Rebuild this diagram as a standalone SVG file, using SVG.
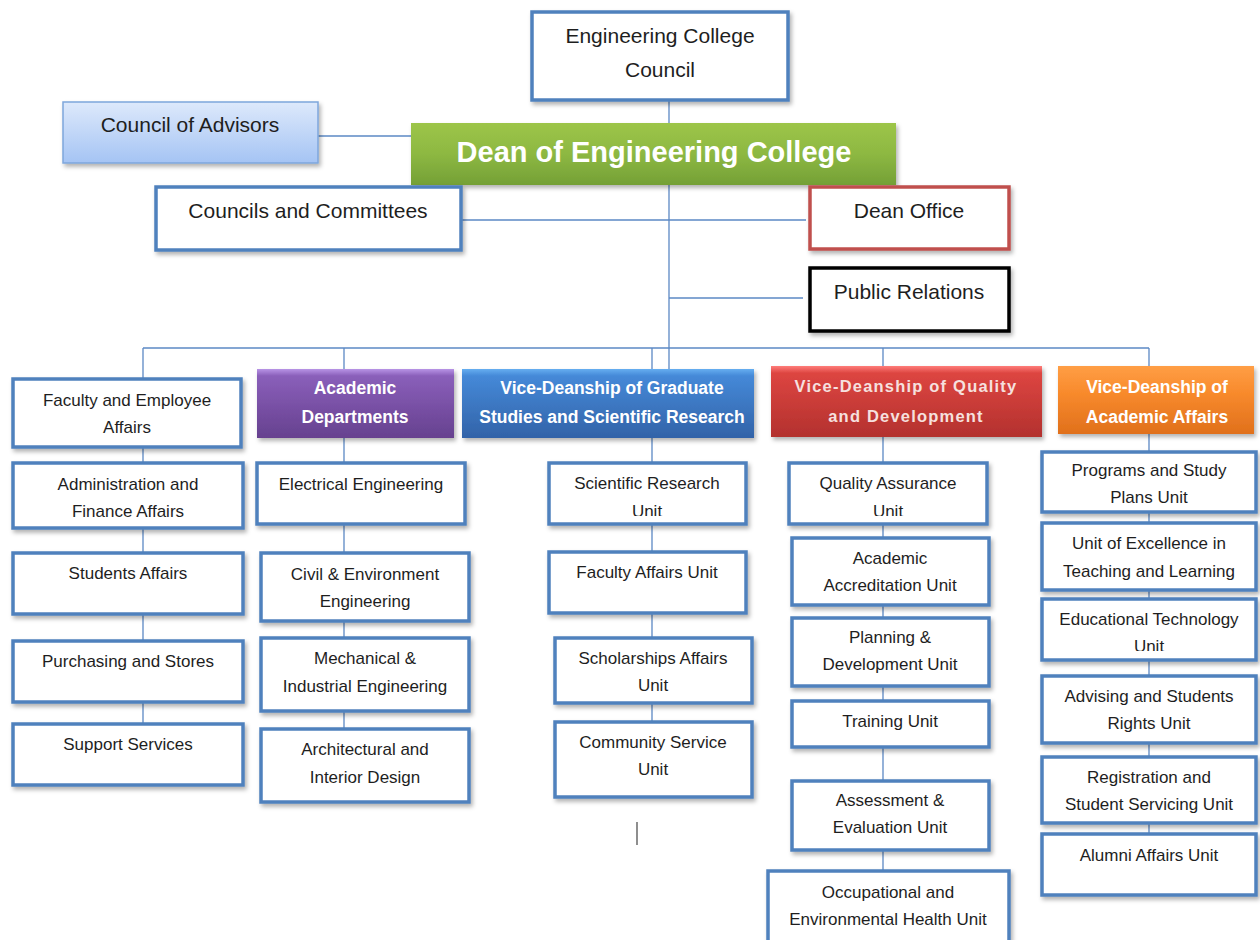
<svg xmlns="http://www.w3.org/2000/svg" width="1260" height="940" viewBox="0 0 1260 940">
<defs>
<filter id="sh" x="-10%" y="-10%" width="125%" height="135%">
<feDropShadow dx="2" dy="3" stdDeviation="2" flood-color="#000" flood-opacity="0.3"/>
</filter>
<linearGradient id="gAdv" x1="0" y1="0" x2="0" y2="1">
<stop offset="0" stop-color="#dde9fb"/><stop offset="1" stop-color="#a5c4f4"/>
</linearGradient>
<linearGradient id="gDean" x1="0" y1="0" x2="0" y2="1">
<stop offset="0" stop-color="#9dc548"/><stop offset="0.5" stop-color="#8db842"/><stop offset="1" stop-color="#74a036"/>
</linearGradient>
<linearGradient id="gPur" x1="0" y1="0" x2="0" y2="1">
<stop offset="0" stop-color="#b894e6"/><stop offset="0.1" stop-color="#8a5fba"/><stop offset="1" stop-color="#66418f"/>
</linearGradient>
<linearGradient id="gBlu" x1="0" y1="0" x2="0" y2="1">
<stop offset="0" stop-color="#66aef0"/><stop offset="0.1" stop-color="#4589d8"/><stop offset="1" stop-color="#3263a8"/>
</linearGradient>
<linearGradient id="gRed" x1="0" y1="0" x2="0" y2="1">
<stop offset="0" stop-color="#ff7d7a"/><stop offset="0.1" stop-color="#dd4541"/><stop offset="1" stop-color="#b3312e"/>
</linearGradient>
<linearGradient id="gOra" x1="0" y1="0" x2="0" y2="1">
<stop offset="0" stop-color="#ff9e45"/><stop offset="0.4" stop-color="#f88a2c"/><stop offset="1" stop-color="#e0701c"/>
</linearGradient>
<clipPath id="cSRU"><rect x="540" y="455" width="220" height="61"/></clipPath>
<clipPath id="cQAU"><rect x="780" y="455" width="220" height="61"/></clipPath>
<clipPath id="cETU"><rect x="1035" y="590" width="225" height="61"/></clipPath>
<style>
.box{fill:#fff;stroke:#4f81bd;stroke-width:3.5;filter:url(#sh)}
.hd{stroke:none;filter:url(#sh)}
.t{font-family:"Liberation Sans",Arial,sans-serif;font-size:17px;fill:#1e1e1e;text-anchor:middle}
.tl{font-family:"Liberation Sans",Arial,sans-serif;font-size:21px;fill:#1e1e1e;text-anchor:middle}
.th{font-family:"Liberation Sans",Arial,sans-serif;font-size:17.5px;font-weight:bold;fill:#fff;text-anchor:middle}
.conn{stroke:#5b88c4;stroke-width:1.3;fill:none}
</style>
</defs>

<g id="connectors">
<path class="conn" d="M669,100 V369"/>
<path class="conn" d="M318,136 H411"/>
<path class="conn" d="M461,220 H806"/>
<path class="conn" d="M669,298 H803"/>
<path class="conn" d="M143,348 H1149"/>
<path class="conn" d="M143,348 V724"/>
<path class="conn" d="M344,348 V729"/>
<path class="conn" d="M652,348 V722"/>
<path class="conn" d="M883,348 V871"/>
<path class="conn" d="M1149,348 V834"/>
<path d="M637,822 V845" stroke="#444" stroke-width="1.2"/>
</g>

<g id="college-council"><rect class="box" x="532" y="12" width="256" height="88"/>
<text class="tl" x="660" y="43">Engineering College</text><text class="tl" x="660" y="77">Council</text></g>

<g id="council-advisors"><rect x="63" y="102" width="255" height="61" fill="url(#gAdv)" stroke="#7ea6dc" stroke-width="1.5" filter="url(#sh)"/>
<text class="tl" x="190" y="132">Council of Advisors</text></g>

<g id="dean"><rect class="hd" x="411" y="123" width="485" height="62" fill="url(#gDean)"/>
<text x="654" y="162" font-family="Liberation Sans,Arial,sans-serif" font-size="29" font-weight="bold" fill="#fff" text-anchor="middle">Dean of Engineering College</text></g>

<g id="councils-committees"><rect class="box" x="156" y="187" width="305" height="63"/>
<text class="tl" x="308" y="218">Councils and Committees</text></g>

<g id="dean-office"><rect class="box" x="810" y="187" width="199" height="62" style="stroke:#c0504d"/>
<text class="tl" x="909" y="218">Dean Office</text></g>

<g id="public-relations"><rect class="box" x="810" y="268" width="199" height="63" style="stroke:#000"/>
<text class="tl" x="909" y="299">Public Relations</text></g>

<g id="academic-departments"><rect class="hd" x="257" y="369" width="197" height="69" fill="url(#gPur)"/>
<text class="th" x="355" y="394">Academic</text><text class="th" x="355" y="423">Departments</text></g>

<g id="vd-graduate"><rect class="hd" x="462" y="369" width="292" height="69" fill="url(#gBlu)"/>
<text class="th" x="612" y="394">Vice-Deanship of Graduate</text><text class="th" x="612" y="423">Studies and Scientific Research</text></g>

<g id="vd-quality"><rect class="hd" x="771" y="366" width="271" height="71" fill="url(#gRed)"/>
<text class="th" x="906" y="392" style="fill:#f6e0df;letter-spacing:1.2px;font-size:16.5px">Vice-Deanship of Quality</text><text class="th" x="906" y="422" style="fill:#f6e0df;letter-spacing:1.2px;font-size:16.5px">and Development</text></g>

<g id="vd-academic-affairs"><rect class="hd" x="1058" y="366" width="196" height="68" fill="url(#gOra)"/>
<text class="th" x="1157" y="393">Vice-Deanship of</text><text class="th" x="1157" y="423">Academic Affairs</text></g>

<g id="faculty-employee"><rect class="box" x="13" y="379" width="228" height="68"/>
<text class="t" x="127" y="406">Faculty and Employee</text><text class="t" x="127" y="433">Affairs</text></g>
<g id="admin-finance"><rect class="box" x="13" y="463" width="230" height="65"/>
<text class="t" x="128" y="490">Administration and</text><text class="t" x="128" y="517">Finance Affairs</text></g>
<g id="students-affairs"><rect class="box" x="13" y="553" width="230" height="61"/>
<text class="t" x="128" y="579">Students Affairs</text></g>
<g id="purchasing"><rect class="box" x="13" y="641" width="230" height="61"/>
<text class="t" x="128" y="667">Purchasing and Stores</text></g>
<g id="support"><rect class="box" x="13" y="724" width="230" height="61"/>
<text class="t" x="128" y="750">Support Services</text></g>

<g id="electrical"><rect class="box" x="257" y="463" width="208" height="61"/>
<text class="t" x="361" y="490">Electrical Engineering</text></g>
<g id="civil"><rect class="box" x="261" y="553" width="208" height="68"/>
<text class="t" x="365" y="580">Civil &amp; Environment</text><text class="t" x="365" y="607">Engineering</text></g>
<g id="mechanical"><rect class="box" x="261" y="638" width="208" height="73"/>
<text class="t" x="365" y="664">Mechanical &amp;</text><text class="t" x="365" y="692">Industrial Engineering</text></g>
<g id="architectural"><rect class="box" x="261" y="729" width="208" height="73"/>
<text class="t" x="365" y="755">Architectural and</text><text class="t" x="365" y="783">Interior Design</text></g>

<g id="scientific-research"><rect class="box" x="549" y="463" width="197" height="61"/>
<text class="t" x="647" y="489">Scientific Research</text><text class="t" x="647" y="517" clip-path="url(#cSRU)">Unit</text></g>
<g id="faculty-affairs"><rect class="box" x="549" y="552" width="197" height="61"/>
<text class="t" x="647" y="578">Faculty Affairs Unit</text></g>
<g id="scholarships"><rect class="box" x="555" y="638" width="197" height="65"/>
<text class="t" x="653" y="664">Scholarships Affairs</text><text class="t" x="653" y="691">Unit</text></g>
<g id="community"><rect class="box" x="555" y="722" width="197" height="75"/>
<text class="t" x="653" y="748">Community Service</text><text class="t" x="653" y="775">Unit</text></g>

<g id="quality-assurance"><rect class="box" x="789" y="463" width="198" height="61"/>
<text class="t" x="888" y="489">Quality Assurance</text><text class="t" x="888" y="517" clip-path="url(#cQAU)">Unit</text></g>
<g id="accreditation"><rect class="box" x="792" y="538" width="197" height="67"/>
<text class="t" x="890" y="564">Academic</text><text class="t" x="890" y="591">Accreditation Unit</text></g>
<g id="planning"><rect class="box" x="792" y="618" width="197" height="68"/>
<text class="t" x="890" y="643">Planning &amp;</text><text class="t" x="890" y="670">Development Unit</text></g>
<g id="training"><rect class="box" x="792" y="701" width="197" height="46"/>
<text class="t" x="890" y="727">Training Unit</text></g>
<g id="assessment"><rect class="box" x="792" y="781" width="197" height="69"/>
<text class="t" x="890" y="806">Assessment &amp;</text><text class="t" x="890" y="833">Evaluation Unit</text></g>
<g id="occupational"><rect class="box" x="768" y="871" width="241" height="80"/>
<text class="t" x="888" y="898">Occupational and</text><text class="t" x="888" y="925">Environmental Health Unit</text></g>

<g id="programs"><rect class="box" x="1042" y="452" width="214" height="60"/>
<text class="t" x="1149" y="476">Programs and Study</text><text class="t" x="1149" y="503">Plans Unit</text></g>
<g id="excellence"><rect class="box" x="1042" y="523" width="214" height="67"/>
<text class="t" x="1149" y="549">Unit of Excellence in</text><text class="t" x="1149" y="577">Teaching and Learning</text></g>
<g id="edu-tech"><rect class="box" x="1042" y="599" width="214" height="61"/>
<text class="t" x="1149" y="625">Educational Technology</text><text class="t" x="1149" y="652" clip-path="url(#cETU)">Unit</text></g>
<g id="advising"><rect class="box" x="1042" y="676" width="214" height="67"/>
<text class="t" x="1149" y="702">Advising and Students</text><text class="t" x="1149" y="729">Rights Unit</text></g>
<g id="registration"><rect class="box" x="1042" y="757" width="214" height="66"/>
<text class="t" x="1149" y="783">Registration and</text><text class="t" x="1149" y="810">Student Servicing Unit</text></g>
<g id="alumni"><rect class="box" x="1042" y="834" width="214" height="61"/>
<text class="t" x="1149" y="861">Alumni Affairs Unit</text></g>
</svg>
